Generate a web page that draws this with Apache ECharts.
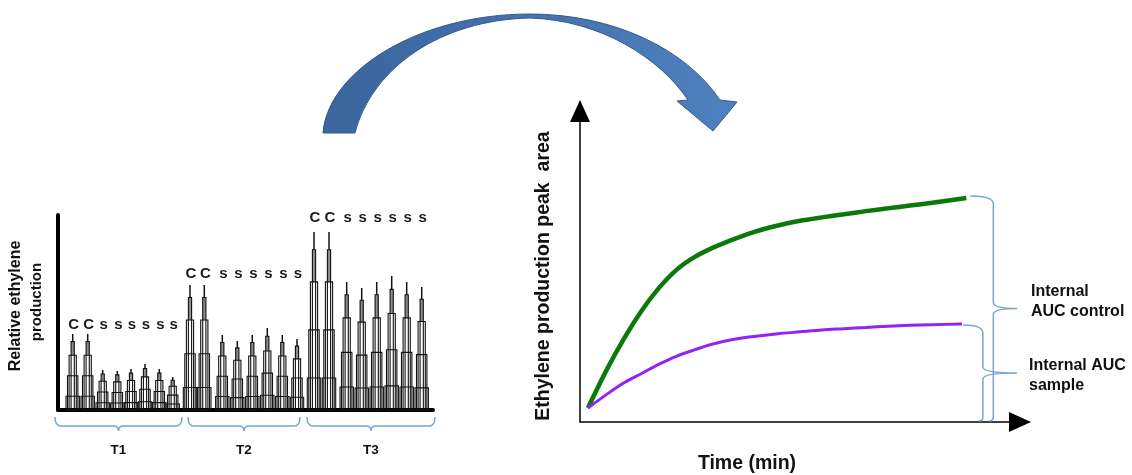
<!DOCTYPE html>
<html><head><meta charset="utf-8">
<script src="https://cdn.jsdelivr.net/npm/echarts@6/dist/echarts.min.js"></script>
<style>html,body{margin:0;padding:0;background:#fff}#c{width:1132px;height:475px}</style>
</head><body><div id="c"></div>
<script>
// ---------- Left panel: chromatogram-like peaks ----------
const peakX = [14.7, 29.7, 44.7, 59.3, 73, 87, 101.3, 114.7,
               132, 146.3, 164.3, 179.3, 194.3, 209.3, 224.3, 239,
               256, 271, 288.7, 303.7, 318.7, 333.7, 348.7, 363.7];
const peakHeight = [76, 76, 40, 39, 41, 46, 41, 33,
                    125, 125, 75, 69, 75, 82, 75, 71,
                    178, 178, 128, 122, 128, 134, 128, 123];
const peakLabel = ['C','C','s','s','s','s','s','s',
                   'C','C','s','s','s','s','s','s',
                   'C','C','s','s','s','s','s','s'];
const peakGroup = [0,0,0,0,0,0,0,0, 1,1,1,1,1,1,1,1, 2,2,2,2,2,2,2,2];
const groupNames = ['T1', 'T2', 'T3'];
const groupSpan = [[-3, 124], [130, 242], [249, 377]];

// ---------- Right panel: cumulative peak area ----------
const timeControl = [1.8, 6, 10, 14, 18, 22, 26, 30, 35, 40, 45, 50, 55, 60, 65, 70, 75, 80, 87.8];
const areaControl = [4.5, 16.6, 26.8, 35.8, 43.2, 49.0, 53.0, 55.9, 58.8, 61.3, 63.2, 64.7, 65.8, 66.8, 67.8, 68.7, 69.6, 70.5, 72.0];
const timeSample  = [1.8, 6, 10, 14, 18, 22, 26, 30, 35, 40, 45, 50, 55, 60, 65, 70, 75, 80, 86.8];
const areaSample  = [4.5, 8.8, 12.6, 15.6, 18.6, 21.2, 23.2, 25.0, 26.6, 27.6, 28.4, 29.0, 29.6, 30.0, 30.4, 30.8, 31.1, 31.3, 31.5];

const FONT = 'Arial, "Liberation Sans", Helvetica, sans-serif';
const chart = echarts.init(document.getElementById('c'), null, {renderer: 'canvas'});

const groupMax = groupNames.map((_, g) =>
  Math.max.apply(null, peakHeight.filter((_, i) => peakGroup[i] === g)));

const peakData = peakX.map((x, i) => [x, peakHeight[i], peakGroup[i]]);

const levels = [0.18, 0.45, 0.72, 0.9];
const halfW = [6.7, 5.2, 3.6, 1.6];

function renderPeak(params, api) {
  const x = api.value(0), h = api.value(1), g = api.value(2);
  const base = api.coord([x, 0]);
  const top = api.coord([x, h]);
  const yAt = f => api.coord([x, h * f])[1];
  const unit = api.size([1, 0])[0];
  const children = [];
  const gw = halfW[3] * unit;
  children.push({type: 'rect', shape: {x: base[0] - gw, y: yAt(levels[3]), width: 2 * gw, height: yAt(levels[2]) - yAt(levels[3])},
                 style: {fill: '#8c8c8c'}});
  for (let k = 0; k < levels.length; k++) {
    const w = halfW[k] * unit;
    const yt = yAt(levels[k]);
    children.push({type: 'rect', shape: {x: base[0] - w, y: yt, width: 2 * w, height: base[1] - yt},
                   style: {fill: 'none', stroke: '#111', lineWidth: 1.1}});
  }
  children.push({type: 'line', shape: {x1: base[0], y1: yAt(levels[3]), x2: base[0], y2: top[1]},
                 style: {stroke: '#111', lineWidth: 1.5}});
  const gm = groupMax[g];
  const ly = api.coord([x, gm + 5 + 0.05 * gm])[1];
  children.push({type: 'text', style: {text: peakLabel[params.dataIndex], x: base[0] + 1, y: ly,
                 align: 'center', verticalAlign: 'middle', textAlign: 'center', textVerticalAlign: 'middle',
                 font: 'bold 15px ' + FONT, fill: '#1a1a1a'}});
  return {type: 'group', children: children};
}

const hiddenAxisBits = {axisTick: {show: false}, axisLabel: {show: false}, splitLine: {show: false}};

chart.setOption({
  animation: false,
  backgroundColor: '#ffffff',
  grid: [
    {left: 58, top: 215, width: 375, height: 195},
    {left: 580, top: 111, width: 440, height: 311}
  ],
  xAxis: [
    Object.assign({gridIndex: 0, type: 'value', min: 0, max: 375,
      axisLine: {show: true, onZero: false, lineStyle: {color: '#000', width: 4}}}, hiddenAxisBits),
    Object.assign({gridIndex: 1, type: 'value', min: 0, max: 100,
      axisLine: {show: true, onZero: false, symbol: ['none', 'triangle'], symbolSize: [20, 22],
                 lineStyle: {color: '#000', width: 1.5}}}, hiddenAxisBits)
  ],
  yAxis: [
    Object.assign({gridIndex: 0, type: 'value', min: 0, max: 195,
      axisLine: {show: true, onZero: false, lineStyle: {color: '#000', width: 4}}}, hiddenAxisBits),
    Object.assign({gridIndex: 1, type: 'value', min: 0, max: 100,
      axisLine: {show: true, onZero: false, symbol: ['none', 'triangle'], symbolSize: [20, 22],
                 lineStyle: {color: '#000', width: 1.5}}}, hiddenAxisBits)
  ],
  series: [
    {type: 'custom', name: 'peaks', xAxisIndex: 0, yAxisIndex: 0, data: peakData,
     renderItem: renderPeak, clip: false, encode: {x: 0, y: 1}, z: 1},
    {type: 'line', name: 'Internal AUC control', xAxisIndex: 1, yAxisIndex: 1,
     data: timeControl.map((t, i) => [t, areaControl[i]]),
     smooth: 0.3, showSymbol: false,
     lineStyle: {color: '#0b780b', width: 4.5}, z: 3},
    {type: 'line', name: 'Internal AUC sample', xAxisIndex: 1, yAxisIndex: 1,
     data: timeSample.map((t, i) => [t, areaSample[i]]),
     smooth: 0.3, showSymbol: false,
     lineStyle: {color: '#9422f5', width: 3}, z: 3}
  ]
});

// ---------- Annotations (braces, arrow, titles) ----------
const zr = chart.getZr();
const braceColor = '#7aa3d6';
function addPath(d, style) {
  zr.add(echarts.graphic.makePath(d, {style: style, z: 10}));
}

const baseY = chart.convertToPixel({gridIndex: 0}, [0, 0])[1];
const graphics = [];
groupSpan.forEach((sp, g) => {
  const a = chart.convertToPixel({gridIndex: 0}, [sp[0], 0])[0];
  const b = chart.convertToPixel({gridIndex: 0}, [sp[1], 0])[0];
  const m = (a + b) / 2;
  const y0 = baseY + 7, y1 = baseY + 16, y2 = baseY + 21;
  addPath('M' + a + ',' + y0 + ' Q' + a + ',' + y1 + ' ' + (a + 6) + ',' + y1 +
          ' L' + (m - 5) + ',' + y1 + ' Q' + m + ',' + y1 + ' ' + m + ',' + y2 +
          ' Q' + m + ',' + y1 + ' ' + (m + 5) + ',' + y1 +
          ' L' + (b - 6) + ',' + y1 + ' Q' + b + ',' + y1 + ' ' + b + ',' + y0,
          {fill: 'none', stroke: braceColor, lineWidth: 1.5});
  graphics.push({type: 'text', x: m, y: baseY + 40,
    style: {text: groupNames[g], font: 'bold 13.5px ' + FONT, fill: '#111', align: 'center', verticalAlign: 'middle'}});
});

const origin = chart.convertToPixel({gridIndex: 1}, [0, 0]);
const cEnd = chart.convertToPixel({gridIndex: 1}, [timeControl[timeControl.length - 1], areaControl[areaControl.length - 1]]);
const sEnd = chart.convertToPixel({gridIndex: 1}, [timeSample[timeSample.length - 1], areaSample[areaSample.length - 1]]);
function vBrace(startX, top, x, tipX, bottom) {
  const mid = (top + bottom) / 2;
  addPath('M' + startX + ',' + top + ' Q' + x + ',' + top + ' ' + x + ',' + (top + 8) +
          ' L' + x + ',' + (mid - 6) + ' Q' + x + ',' + mid + ' ' + tipX + ',' + mid +
          ' Q' + x + ',' + mid + ' ' + x + ',' + (mid + 6) +
          ' L' + x + ',' + (bottom - 5) + ' Q' + x + ',' + bottom + ' ' + (x - 4) + ',' + bottom,
          {fill: 'none', stroke: braceColor, lineWidth: 1.5});
}
vBrace(cEnd[0] + 4, cEnd[1] - 2, cEnd[0] + 27, cEnd[0] + 51, origin[1] - 1);
vBrace(sEnd[0] + 1, sEnd[1] + 1, sEnd[0] + 21, sEnd[0] + 55, origin[1] - 1);

addPath('M323,133 C328,70 420,14 530,14 C612,14 685,48 720,100 L737,102 L713,131 L677,101 L688,100 ' +
        'C660,58 600,20 530,18 C440,20 372,68 355,133 Z',
        {fill: new echarts.graphic.LinearGradient(0, 0, 1, 0, [
            {offset: 0, color: '#3a659d'}, {offset: 1, color: '#4f80bf'}]),
         stroke: '#36598a', lineWidth: 1});

graphics.push(
  {type: 'text', x: 16, y: 306, rotation: Math.PI / 2,
   style: {text: 'Relative ethylene', font: 'bold 16px ' + FONT, fill: '#111', align: 'center', verticalAlign: 'middle'}},
  {type: 'text', x: 37, y: 302, rotation: Math.PI / 2,
   style: {text: 'production', font: 'bold 15px ' + FONT, fill: '#111', align: 'center', verticalAlign: 'middle'}},
  {type: 'text', x: 544, y: 276, rotation: Math.PI / 2,
   style: {text: 'Ethylene production peak  area', font: 'bold 19.5px ' + FONT, fill: '#111', align: 'center', verticalAlign: 'middle'}},
  {type: 'text', x: 747, y: 454,
   style: {text: 'Time (min)', font: 'bold 19.5px ' + FONT, fill: '#111', align: 'center', verticalAlign: 'top'}},
  {type: 'text', x: 1031, y: 302,
   style: {text: 'Internal\nAUC control', font: 'bold 16px ' + FONT, lineHeight: 20, fill: '#111', align: 'left', verticalAlign: 'middle'}},
  {type: 'text', x: 1029, y: 376,
   style: {text: 'Internal AUC\nsample', font: 'bold 16px ' + FONT, lineHeight: 20, fill: '#111', align: 'left', verticalAlign: 'middle'}}
);
chart.setOption({graphic: {elements: graphics}});
</script>
</body></html>
